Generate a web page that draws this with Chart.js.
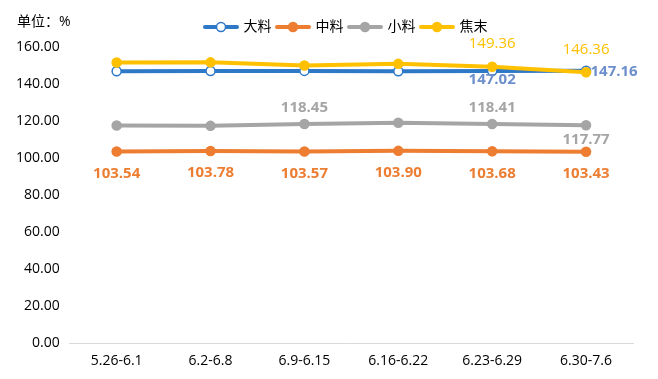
<!DOCTYPE html>
<html>
<head>
<meta charset="utf-8">
<script src="https://cdn.jsdelivr.net/npm/chart.js@4"></script>
<style>
	body { margin: 0; background: #fff; }
	#wrap { width: 658px; height: 379px; }
</style>
</head>
<body>
<div id="wrap"><canvas id="priceChart" width="658" height="379"></canvas></div>
<script>
const weeks = ["5.26-6.1", "6.2-6.8", "6.9-6.15", "6.16-6.22", "6.23-6.29", "6.30-7.6"];
const daliao = [146.9, 147.0, 147.1, 146.9, 147.02, 147.16];
const zhongliao = [103.54, 103.78, 103.57, 103.90, 103.68, 103.43];
const xiaoliao = [117.6, 117.4, 118.45, 119.1, 118.41, 117.77];
const jiaomo = [151.6, 151.7, 150.0, 150.9, 149.36, 146.36];
const yTicks = [0, 20, 40, 60, 80, 100, 120, 140, 160];

const FONT = '"Open Sans", "Noto Sans CJK SC", sans-serif';

// which points get a value label, and where it sits
const labelSpots = [
	{ at: { 4: "below", 5: "right" }, color: "#6d8fcb", weight: "bold" },
	{ at: { 0: "below", 1: "below", 2: "below", 3: "below", 4: "below", 5: "below" }, color: "#ed7d31", weight: "bold" },
	{ at: { 2: "above", 4: "above", 5: "below" }, color: "#a5a5a5", weight: "bold" },
	{ at: { 4: "above", 5: "above" }, color: "#ffc000", weight: "normal" }
];

function legendIcon(color, hollow) {
	const c = document.createElement("canvas");
	c.width = 36;
	c.height = 12;
	const g = c.getContext("2d");
	g.strokeStyle = color;
	g.lineWidth = 4;
	g.lineCap = "round";
	g.beginPath();
	g.moveTo(2, 6);
	g.lineTo(34, 6);
	g.stroke();
	g.beginPath();
	g.arc(18, 6, 4.5, 0, Math.PI * 2);
	g.fillStyle = hollow ? "#fff" : color;
	g.fill();
	g.lineWidth = 1.5;
	g.stroke();
	return c;
}

const valueLabels = {
	id: "valueLabels",
	afterDatasetsDraw(chart) {
		const c = chart.ctx;
		c.save();
		c.textAlign = "center";
		c.textBaseline = "middle";
		chart.data.datasets.forEach((ds, i) => {
			const spot = labelSpots[i];
			const meta = chart.getDatasetMeta(i);
			c.fillStyle = spot.color;
			c.font = spot.weight + " 15px " + FONT;
			meta.data.forEach((pt, j) => {
				const where = spot.at[j];
				if (!where) return;
				const text = ds.data[j].toFixed(2);
				let x = pt.x, y = pt.y;
				if (where === "above") y -= (i === 3 ? 23 : 16);
				if (where === "below") y += (i === 0 ? 9 : i === 1 ? 22 : 15);
				if (where === "right") { x += 28; y += 1; }
				c.fillText(text, x, y);
			});
		});
		c.restore();
	},
	afterLayout(chart) {
		chart.legend.left += 27;
		chart.legend.right += 27;
		chart.legend.top -= 3;
		chart.legend.bottom -= 3;
	},
	afterDraw(chart) {
		const c = chart.ctx;
		c.save();
		c.fillStyle = "#000";
		c.font = "14px " + FONT;
		c.textBaseline = "middle";
		c.fillText("单位：%", 17, 22);
		c.restore();
	}
};

function series(label, data, color, hollow, order) {
	return {
		label: label,
		data: data,
		borderColor: color,
		backgroundColor: color,
		borderWidth: 4,
		pointRadius: 4.5,
		pointHoverRadius: 4.5,
		pointBackgroundColor: hollow ? "#fff" : color,
		pointBorderColor: color,
		pointBorderWidth: 1.5,
		tension: 0,
		order: order
	};
}

const datasets = [
	series("大料", daliao, "#2e78c8", true, 2),
	series("中料", zhongliao, "#ed7d31", false, 2),
	series("小料", xiaoliao, "#a5a5a5", false, 2),
	series("焦末", jiaomo, "#ffc000", false, 1)
];

new Chart(document.getElementById("priceChart"), {
	type: "line",
	data: { labels: weeks, datasets: datasets },
	plugins: [valueLabels],
	options: {
		responsive: false,
		animation: false,
		events: [],
		layout: { padding: { left: 6, right: 25, top: 17, bottom: 1 } },
		plugins: {
			tooltip: { enabled: false },
			legend: {
				position: "top",
				align: "center",
				labels: {
					usePointStyle: true,
					pointStyleWidth: 31,
					padding: 6,
					color: "#000",
					font: { family: FONT, size: 14 },
					generateLabels(chart) {
						return chart.data.datasets.map((ds, i) => ({
							text: ds.label,
							pointStyle: legendIcon(ds.borderColor, i === 0),
							fillStyle: ds.borderColor,
							strokeStyle: ds.borderColor,
							lineWidth: 0,
							fontColor: "#000",
							datasetIndex: i,
							hidden: false
						}));
					}
				}
			}
		},
		scales: {
			x: {
				offset: true,
				grid: { display: false, drawTicks: false },
				border: { display: true, color: "#d9d9d9", width: 1 },
				ticks: { color: "#000", font: { family: FONT, size: 14 }, padding: 9, maxRotation: 0 }
			},
			y: {
				min: 0,
				max: 160,
				afterBuildTicks(scale) {
					scale.ticks = yTicks.map(v => ({ value: v }));
				},
				grid: { display: false, drawTicks: false },
				border: { display: false },
				ticks: {
					color: "#000",
					padding: 10,
					font: { family: FONT, size: 14 },
					callback: v => Number(v).toFixed(2)
				}
			}
		}
	}
});
</script>
</body>
</html>
